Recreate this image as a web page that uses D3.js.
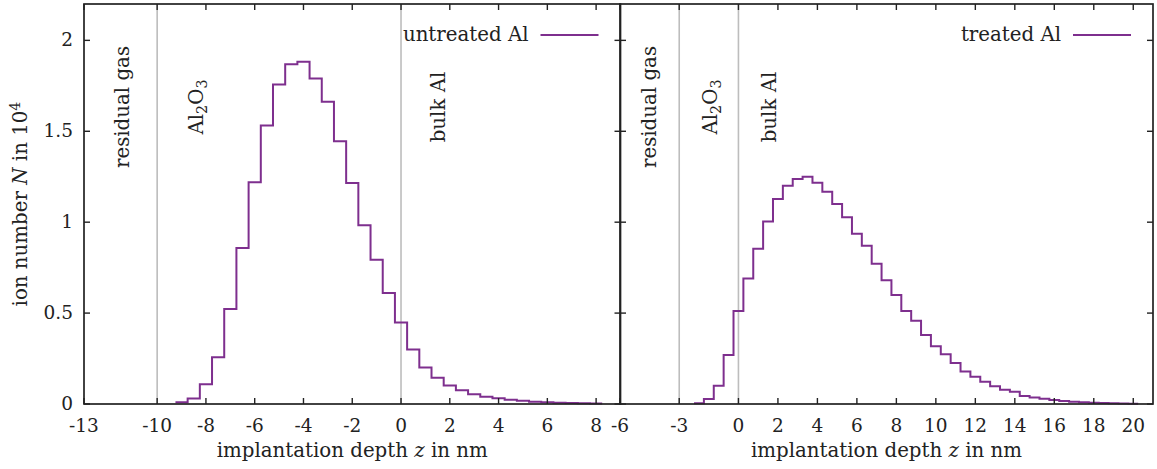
<!DOCTYPE html>
<html><head><meta charset="utf-8">
<script src="https://cdn.jsdelivr.net/npm/d3@7"></script>
<style>
html,body{margin:0;padding:0;background:#fff;}
text{font-family:"DejaVu Serif",serif;fill:#222;}
</style></head>
<body><svg id="c" width="1157" height="469"></svg>
<script>
// ---- data ----
const untreatedStart = -9.0;  // first bin centre (nm), bin width 0.5
const untreatedValues = [0.009,0.03,0.108,0.257,0.523,0.858,1.219,1.532,1.757,1.868,1.882,1.79,1.662,1.445,1.216,0.983,0.793,0.61,0.448,0.30,
  0.201,0.145,0.102,0.075,0.053,0.04,0.031,0.024,0.018,0.013,0.009,0.007,0.005,0.004,0.003];
const treatedStart = -2.0;
const treatedValues = [0.004,0.027,0.10,0.27,0.511,0.69,0.854,1.004,1.128,1.20,1.237,1.25,1.217,1.168,1.10,1.027,0.936,0.87,0.772,0.681,
  0.599,0.511,0.458,0.38,0.318,0.274,0.226,0.179,0.15,0.122,0.097,0.078,0.068,0.044,0.036,0.029,0.022,0.016,0.013,0.009,0.007,0.005,0.004,0.003,0.002];
const binWidth = 0.5;
const leftTicks = [-13,-10,-8,-6,-4,-2,0,2,4,6,8];
const rightTicks = [-6,-3,0,2,4,6,8,10,12,14,16,18,20];
const yTicks = [0,0.5,1,1.5,2];
const yTickLabels = ["0","0.5","1","1.5","2"];
const leftBoundaries = [-10,0];
const rightBoundaries = [-3,0];
const leftRegionLabels = [["residual gas",-11.17],["Al2O3",-8.12],["bulk Al",1.8]];
const rightRegionLabels = [["residual gas",-4.18],["Al2O3",-1.1],["bulk Al",1.9]];
const legendNames = ["untreated Al","treated Al"];

// ---- layout ----
const svg = d3.select("#c");
const color = "#7E2F8E";
const y = d3.scaleLinear().domain([0,2.2]).range([404,4]);
const panels = [
  {x: d3.scaleLinear().domain([-13,9]).range([84,620.5]), ticks:leftTicks, start:untreatedStart, vals:untreatedValues, bounds:leftBoundaries, labels:leftRegionLabels, name:legendNames[0], yLabels:true},
  {x: d3.scaleLinear().domain([-6,21]).range([620,1153]), ticks:rightTicks, start:treatedStart, vals:treatedValues, bounds:rightBoundaries, labels:rightRegionLabels, name:legendNames[1], yLabels:false}
];
const fs = 18.5;
const fsT = 19.8;
const tl = 6;

panels.forEach(p => {
  const x = p.x;
  const [x0,x1] = x.range();
  const g = svg.append("g");
  // boundaries
  g.selectAll("line.b").data(p.bounds).enter().append("line")
    .attr("x1",d=>x(d)).attr("x2",d=>x(d)).attr("y1",y(0)).attr("y2",y(2.2))
    .attr("stroke","#bdbdbd").attr("stroke-width",1.6);
  // region labels
  p.labels.forEach(([t,xv]) => {
    const tx = g.append("text").attr("transform",`translate(${x(xv)},107) rotate(-90)`)
      .attr("text-anchor","middle").attr("font-size",fsT);
    if (t === "Al2O3") {
      tx.append("tspan").text("Al");
      tx.append("tspan").attr("dy",4).attr("font-size",fsT*0.72).text("2");
      tx.append("tspan").attr("dy",-4).text("O");
      tx.append("tspan").attr("dy",4).attr("font-size",fsT*0.72).text("3");
    } else tx.text(t);
  });
  // histogram steps
  const pts = [];
  p.vals.forEach((v,i) => {
    const c = p.start + i*binWidth;
    pts.push([c-binWidth/2, v]); pts.push([c+binWidth/2, v]);
  });
  g.append("path").attr("d", d3.line().x(d=>x(d[0])).y(d=>y(d[1]))(pts))
    .attr("fill","none").attr("stroke",color).attr("stroke-width",2);
  // frame
  g.append("rect").attr("x",x0).attr("y",y(2.2)).attr("width",x1-x0).attr("height",y(0)-y(2.2))
    .attr("fill","none").attr("stroke","#222").attr("stroke-width",1.7);
  // x ticks (bottom & top, inward)
  p.ticks.forEach(t => {
    g.append("line").attr("x1",x(t)).attr("x2",x(t)).attr("y1",y(0)).attr("y2",y(0)-tl).attr("stroke","#222").attr("stroke-width",1.4);
    g.append("line").attr("x1",x(t)).attr("x2",x(t)).attr("y1",y(2.2)).attr("y2",y(2.2)+tl).attr("stroke","#222").attr("stroke-width",1.4);
    g.append("text").attr("x",x(t)).attr("y",432).attr("text-anchor","middle").attr("font-size",fs).text(t);
  });
  // y ticks (left & right, inward)
  yTicks.forEach((t,i) => {
    g.append("line").attr("x1",x0).attr("x2",x0+tl).attr("y1",y(t)).attr("y2",y(t)).attr("stroke","#222").attr("stroke-width",1.4);
    g.append("line").attr("x1",x1).attr("x2",x1-tl).attr("y1",y(t)).attr("y2",y(t)).attr("stroke","#222").attr("stroke-width",1.4);
    if (p.yLabels) g.append("text").attr("x",x0-11).attr("y",y(t)+6).attr("text-anchor","end").attr("font-size",fs).text(yTickLabels[i]);
  });
  // x title
  const xt = g.append("text").attr("x",(x0+x1)/2).attr("y",457).attr("text-anchor","middle").attr("font-size",fsT);
  xt.append("tspan").text("implantation depth ");
  xt.append("tspan").attr("font-style","italic").text("z");
  xt.append("tspan").text(" in nm");
  // legend
  g.append("text").attr("x",x1-92).attr("y",41).attr("text-anchor","end").attr("font-size",fsT).text(p.name);
  g.append("line").attr("x1",x1-80).attr("x2",x1-22).attr("y1",35).attr("y2",35).attr("stroke",color).attr("stroke-width",2);
});

// y title
const yt = svg.append("text").attr("transform","translate(27,204) rotate(-90)").attr("text-anchor","middle").attr("font-size",fsT);
yt.append("tspan").text("ion number ");
yt.append("tspan").attr("font-style","italic").text("N");
yt.append("tspan").text(" in 10");
yt.append("tspan").attr("dy",-7).attr("font-size",fsT*0.72).text("4");
</script></body></html>
